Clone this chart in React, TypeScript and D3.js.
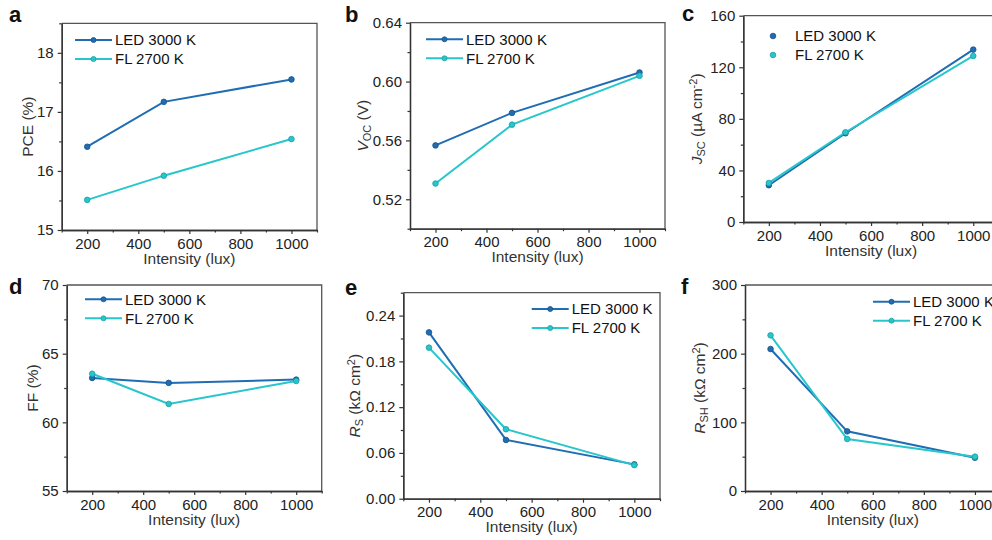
import React, { useEffect, useRef } from "react";
import * as d3 from "d3";

// Light intensity (lux) shared by every panel
const intensity = [200, 500, 1000];
const seriesNames = ["LED 3000 K", "FL 2700 K"];
const seriesColors = ["#1f6db3", "#27c6cc"];
const markerStroke = ["#15528a", "#1a9ea3"];

// Photovoltaic parameters for each light source
const pceLED = [16.41, 17.17, 17.55];
const pceFL = [15.51, 15.92, 16.54];
const vocLED = [0.5566, 0.5787, 0.6062];
const vocFL = [0.5307, 0.5707, 0.6039];
const jscLED = [28.5, 68.8, 133.7];
const jscFL = [30.3, 69.6, 128.8];
const ffLED = [63.23, 62.87, 63.11];
const ffFL = [63.54, 61.34, 63.01];
const rsLED = [0.218, 0.077, 0.045];
const rsFL = [0.198, 0.091, 0.044];
const rshLED = [206.8, 86.9, 48.5];
const rshFL = [226.7, 75.7, 50.0];

// Axis ticks
const xMajor = [200, 400, 600, 800, 1000];
const xMinor = [100, 300, 500, 700, 900, 1100];
const pceTicks = [15, 16, 17, 18];
const vocTicks = [0.52, 0.56, 0.6, 0.64];
const jscTicks = [0, 40, 80, 120, 160];
const ffTicks = [55, 60, 65, 70];
const rsTicks = [0, 0.06, 0.12, 0.18, 0.24];
const rshTicks = [0, 100, 200, 300];

type Part = { t: string; style?: "i" | "sub" | "sup" };

type Panel = {
  letter: string;
  box: [number, number, number, number];
  yDomain: [number, number];
  yTicks: number[];
  yMinorStep: number;
  fmt: string;
  led: number[];
  fl: number[];
  title: Part[];
  titleX: number;
  legend: { x: number; y: number; dotsOnly?: boolean };
  letterPos: [number, number];
};

const panels: Panel[] = [
  {
    letter: "a", box: [61.7, 23.3, 317, 230], yDomain: [15, 18.5], yTicks: pceTicks, yMinorStep: 0.5, fmt: "d",
    led: pceLED, fl: pceFL, title: [{ t: "PCE (%)" }], titleX: 28,
    legend: { x: 75, y: 40 }, letterPos: [9, 22],
  },
  {
    letter: "b", box: [410, 22.7, 665, 228.7], yDomain: [0.5, 0.64], yTicks: vocTicks, yMinorStep: 0.02, fmt: ".2f",
    led: vocLED, fl: vocFL,
    title: [{ t: "V", style: "i" }, { t: "OC", style: "sub" }, { t: " (V)" }], titleX: 363,
    legend: { x: 426, y: 39.3 }, letterPos: [345, 22],
  },
  {
    letter: "c", box: [743.3, 15.7, 998.8, 222], yDomain: [0, 160], yTicks: jscTicks, yMinorStep: 20, fmt: "d",
    led: jscLED, fl: jscFL,
    title: [{ t: "J", style: "i" }, { t: "SC", style: "sub" }, { t: " (µA cm" }, { t: "-2", style: "sup" }, { t: ")" }],
    titleX: 697, legend: { x: 755, y: 36, dotsOnly: true }, letterPos: [682, 21],
  },
  {
    letter: "d", box: [66.7, 285, 321.7, 491], yDomain: [55, 70], yTicks: ffTicks, yMinorStep: 2.5, fmt: "d",
    led: ffLED, fl: ffFL, title: [{ t: "FF (%)" }], titleX: 33,
    legend: { x: 85, y: 299.3 }, letterPos: [9, 294],
  },
  {
    letter: "e", box: [403.3, 292.7, 660, 498.7], yDomain: [0, 0.27], yTicks: rsTicks, yMinorStep: 0.03, fmt: ".2f",
    led: rsLED, fl: rsFL,
    title: [{ t: "R", style: "i" }, { t: "S", style: "sub" }, { t: " (kΩ cm" }, { t: "2", style: "sup" }, { t: ")" }],
    titleX: 355, legend: { x: 531.7, y: 309 }, letterPos: [345, 295],
  },
  {
    letter: "f", box: [745, 285, 1000.5, 491], yDomain: [0, 300], yTicks: rshTicks, yMinorStep: 50, fmt: "d",
    led: rshLED, fl: rshFL,
    title: [{ t: "R", style: "i" }, { t: "SH", style: "sub" }, { t: " (kΩ cm" }, { t: "2", style: "sup" }, { t: ")" }],
    titleX: 700, legend: { x: 873, y: 301.7 }, letterPos: [681, 294],
  },
];

const FONT = "'Liberation Sans', Arial, Helvetica, sans-serif";
const AXIS = "#333333";

function drawPanel(root: d3.Selection<SVGGElement, unknown, null, undefined>, p: Panel) {
  const [x0, y0, x1, y1] = p.box;
  const x = d3.scaleLinear().domain([100, 1100]).range([x0, x1]);
  const y = d3.scaleLinear().domain(p.yDomain).range([y1, y0]);
  const g = root.append("g");

  // frame on the top and right
  g.append("path")
    .attr("d", `M${x0},${y0}H${x1}V${y1}`)
    .attr("fill", "none")
    .attr("stroke", "#555")
    .attr("stroke-width", 1.3);

  // bottom axis
  const xAxis = g.append("g").attr("transform", `translate(0,${y1})`);
  xAxis.call(d3.axisBottom(x).tickValues(xMajor).tickSize(4).tickSizeOuter(0).tickPadding(4).tickFormat(d3.format("d")));
  xAxis.append("g").call(d3.axisBottom(x).tickValues(xMinor).tickSize(2.5).tickSizeOuter(0).tickFormat(() => ""));

  // left axis
  const yAxis = g.append("g").attr("transform", `translate(${x0},0)`);
  yAxis.call(d3.axisLeft(y).tickValues(p.yTicks).tickSize(4).tickSizeOuter(0).tickPadding(4).tickFormat(d3.format(p.fmt)));
  const yMinor = d3.range(p.yDomain[0], p.yDomain[1] + 1e-9, p.yMinorStep)
    .filter((v) => !p.yTicks.some((t) => Math.abs(t - v) < 1e-9));
  yAxis.append("g").call(d3.axisLeft(y).tickValues(yMinor).tickSize(2.5).tickSizeOuter(0).tickFormat(() => ""));

  g.selectAll(".domain").attr("stroke", AXIS).attr("stroke-width", 1.3);
  g.selectAll(".tick line").attr("stroke", AXIS).attr("stroke-width", 1.2);
  g.selectAll(".tick text")
    .attr("font-family", FONT)
    .attr("font-size", 15)
    .attr("fill", "#222");

  // x axis title
  g.append("text")
    .attr("x", (x0 + x1) / 2)
    .attr("y", y1 + 33.5)
    .attr("text-anchor", "middle")
    .attr("font-family", FONT)
    .attr("font-size", 15.5)
    .attr("fill", "#333")
    .text("Intensity (lux)");

  // y axis title
  const cy = (y0 + y1) / 2;
  const yt = g.append("text")
    .attr("transform", `translate(${p.titleX},${cy}) rotate(-90)`)
    .attr("text-anchor", "middle")
    .attr("dy", "0.35em")
    .attr("font-family", FONT)
    .attr("font-size", 15.5)
    .attr("fill", "#333");
  p.title.forEach((part) => {
    const ts = yt.append("tspan").text(part.t);
    if (part.style === "i") ts.attr("font-style", "italic");
    if (part.style === "sub") ts.attr("font-size", 11).attr("baseline-shift", "-25%");
    if (part.style === "sup") ts.attr("font-size", 11).attr("baseline-shift", "45%");
  });

  // panel letter
  g.append("text")
    .attr("x", p.letterPos[0])
    .attr("y", p.letterPos[1])
    .attr("font-family", FONT)
    .attr("font-weight", "bold")
    .attr("font-size", 22)
    .attr("fill", "#111")
    .text(p.letter);

  // series lines and markers
  const line = d3.line<number>().x((_, i) => x(intensity[i])).y((v) => y(v));
  [p.led, p.fl].forEach((vals, k) => {
    g.append("path")
      .attr("d", line(vals) || "")
      .attr("fill", "none")
      .attr("stroke", seriesColors[k])
      .attr("stroke-width", 2);
    g.selectAll(null)
      .data(vals)
      .enter()
      .append("circle")
      .attr("cx", (_, i) => x(intensity[i]))
      .attr("cy", (v) => y(v))
      .attr("r", 2.8)
      .attr("fill", seriesColors[k])
      .attr("stroke", markerStroke[k])
      .attr("stroke-width", 0.8);
  });

  // legend
  const L = p.legend;
  seriesNames.forEach((name, k) => {
    const ly = L.y + k * 19;
    if (L.dotsOnly) {
      g.append("circle").attr("cx", L.x + 18).attr("cy", ly).attr("r", 2.8)
        .attr("fill", seriesColors[k]).attr("stroke", markerStroke[k]).attr("stroke-width", 0.8);
    } else {
      g.append("line").attr("x1", L.x).attr("x2", L.x + 37).attr("y1", ly).attr("y2", ly)
        .attr("stroke", seriesColors[k]).attr("stroke-width", 2);
      g.append("circle").attr("cx", L.x + 18.5).attr("cy", ly).attr("r", 2.5)
        .attr("fill", seriesColors[k]).attr("stroke", markerStroke[k]).attr("stroke-width", 0.8);
    }
    g.append("text").attr("x", L.x + 40).attr("y", ly).attr("dy", "0.35em")
      .attr("font-family", FONT).attr("font-size", 15).attr("fill", "#111").text(name);
  });
}

export default function App() {
  const ref = useRef<SVGSVGElement>(null);
  useEffect(() => {
    if (!ref.current) return;
    const svg = d3.select(ref.current);
    svg.selectAll("*").remove();
    const root = svg.append("g");
    panels.forEach((p) => drawPanel(root, p));
  }, []);
  return (
    <svg
      ref={ref}
      width={992}
      height={540}
      style={{ position: "absolute", left: 0, top: 0, background: "#fff" }}
    />
  );
}
